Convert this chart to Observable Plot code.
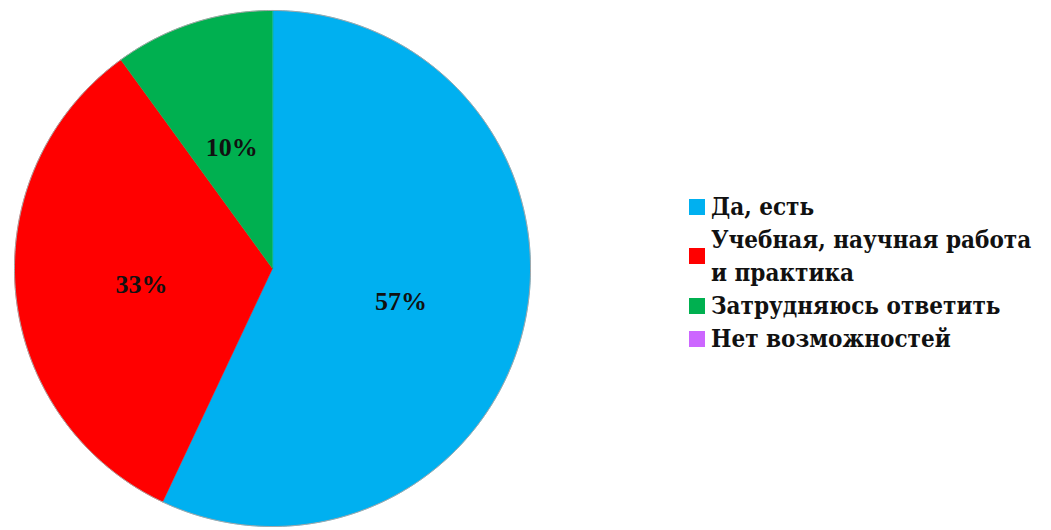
<!DOCTYPE html>
<html>
<head>
<meta charset="utf-8">
<script src="https://cdn.jsdelivr.net/npm/d3@7"></script>
<script src="https://cdn.jsdelivr.net/npm/@observablehq/plot@0.6"></script>
<style>
  html, body { margin: 0; padding: 0; background: #fff; }
  #wrap { position: relative; width: 1051px; height: 530px; overflow: hidden; }
  #legend { position: absolute; left: 689px; top: 190px; font-family: "DejaVu Serif", serif; font-stretch: condensed; font-weight: bold; font-size: 24px; color: #111; }
  .item { display: flex; align-items: center; line-height: 33px; }
  .sw { width: 16px; height: 16px; flex: none; margin-right: 6px; }
  .txt { max-width: 335px; }
</style>
</head>
<body>
<div id="wrap"><div id="chart"></div><div id="legend"></div></div>
<script>
const categories = ["Да, есть", "Учебная, научная работа и практика", "Затрудняюсь ответить", "Нет возможностей"];
const values = [57, 33, 10, 0];
const colors = ["#00B0F0", "#FF0000", "#00B050", "#CC66FF"];
const labels = ["57%", "33%", "10%", ""];

const W = 1051, H = 530, R = 258, cx = 272, cy = 268;
const arcs = d3.pie().sort(null).value(d => d)(values);

const sliceMarks = [];
const outlineMarks = [];
arcs.forEach((a, i) => {
  if (a.endAngle - a.startAngle <= 0) return;
  const n = Math.max(2, Math.ceil((a.endAngle - a.startAngle) / 0.01));
  const arcPts = d3.range(n + 1).map(k => {
    const t = a.startAngle + (a.endAngle - a.startAngle) * k / n;
    return {x: Math.sin(t), y: Math.cos(t)};
  });
  const poly = [{x: 0, y: 0}, ...arcPts];
  sliceMarks.push(Plot.line(poly, {x: "x", y: "y", curve: "linear-closed", fill: colors[i], stroke: colors[i], strokeWidth: 0.5}));
  outlineMarks.push(Plot.line(arcPts, {x: "x", y: "y", stroke: "#a6a6a6", strokeWidth: 1}));
});

const labelData = arcs.map((a, i) => {
  const m = (a.startAngle + a.endAngle) / 2;
  return {x: 0.51 * Math.sin(m), y: 0.51 * Math.cos(m), label: labels[i]};
}).filter(d => d.label);

const chart = Plot.plot({
  width: W, height: H, margin: 0,
  x: {domain: [-cx / R, (W - cx) / R], axis: null},
  y: {domain: [-(H - cy) / R, cy / R], axis: null},
  marks: [
    ...sliceMarks,
    ...outlineMarks,
    Plot.text(labelData, {x: "x", y: "y", dy: 4, text: "label", fontSize: 26, fontWeight: "bold", fontFamily: "Liberation Serif, Times New Roman, serif", fill: "#111"})
  ]
});
document.getElementById("chart").appendChild(chart);

const legend = document.getElementById("legend");
categories.forEach((c, i) => {
  const item = document.createElement("div");
  item.className = "item";
  const sw = document.createElement("div");
  sw.className = "sw";
  sw.style.background = colors[i];
  const t = document.createElement("div");
  t.className = "txt";
  t.textContent = c;
  item.appendChild(sw);
  item.appendChild(t);
  legend.appendChild(item);
});
</script>
</body>
</html>
